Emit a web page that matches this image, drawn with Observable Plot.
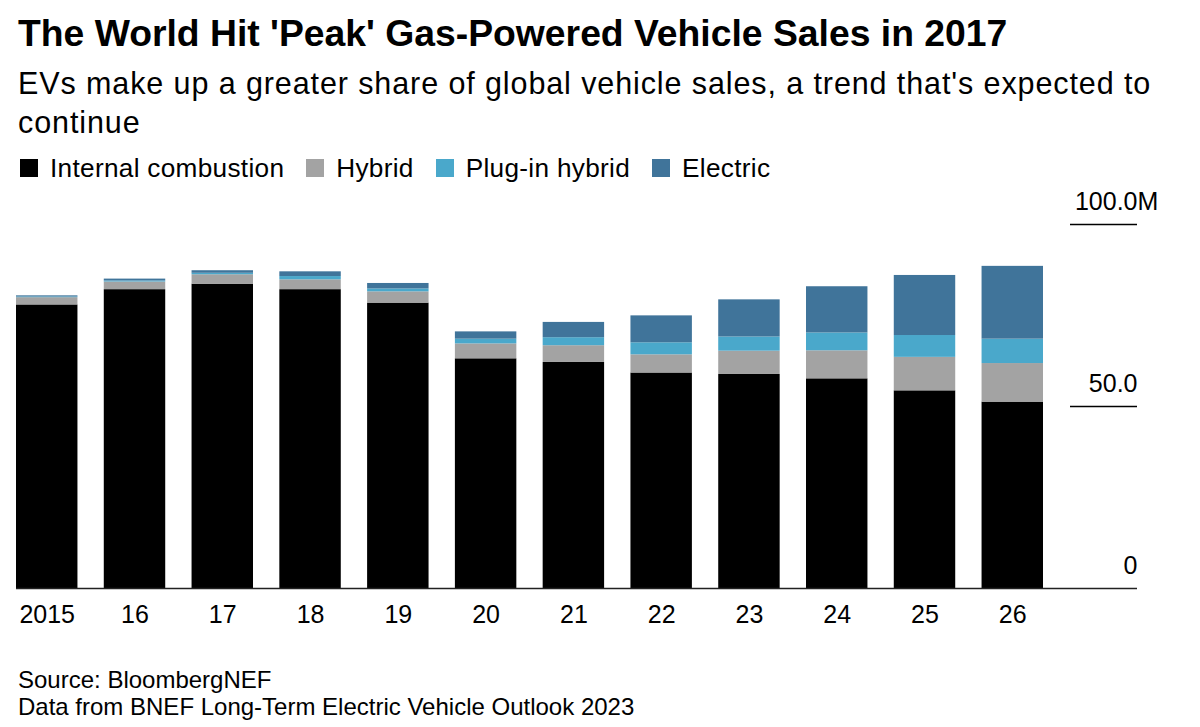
<!DOCTYPE html>
<html><head><meta charset="utf-8">
<script src="https://cdn.jsdelivr.net/npm/d3@7"></script>
<script src="https://cdn.jsdelivr.net/npm/@observablehq/plot@0.6"></script>
<style>
body{margin:0;background:#fff;font-family:"Liberation Sans",Arial,Helvetica,sans-serif;color:#000;}
#wrap{position:relative;width:1200px;height:727px;overflow:hidden;background:#fff}
.t{position:absolute;left:18px;white-space:nowrap}
#title{top:11px;font-size:37.3px;line-height:44px;font-weight:bold}
#sub{top:64px;font-size:30.5px;line-height:39px;letter-spacing:0.9px}
#legend{top:153px;left:20px;font-size:26.2px;line-height:30px;letter-spacing:0.3px;display:flex;align-items:center;z-index:2}
.item{display:flex;align-items:center;margin-right:22px}
.sw{width:18px;height:18px;margin-right:12px;display:inline-block}
#chart{position:absolute;left:0;top:180px;z-index:1}
#src{top:666px;font-size:24px;line-height:27px}
</style></head><body>
<div id="wrap">
<div class="t" id="title">The World Hit 'Peak' Gas-Powered Vehicle Sales in 2017</div>
<div class="t" id="sub">EVs make up a greater share of global vehicle sales, a trend that's expected to<br>continue</div>
<div class="t" id="legend"></div>
<div id="chart"></div>
<div class="t" id="src">Source: BloombergNEF<br>Data from BNEF Long-Term Electric Vehicle Outlook 2023</div>
</div>
<script>
const years = ["2015","2016","2017","2018","2019","2020","2021","2022","2023","2024","2025","2026"];
const tickLabels = ["2015","16","17","18","19","20","21","22","23","24","25","26"];
const series = ["Internal combustion","Hybrid","Plug-in hybrid","Electric"];
const colors = ["#000000","#a3a3a3","#4aa8cb","#40749a"];
const internalCombustion = [77.9, 82.1, 83.6, 82.1, 78.4, 63.1, 62.1, 59.2, 58.8, 57.6, 54.3, 51.2];
const hybrid = [2.0, 2.1, 2.6, 2.7, 3.1, 4.1, 4.6, 5.0, 6.4, 7.7, 9.2, 10.6];
const pluginHybrid = [0.2, 0.3, 0.4, 0.9, 0.8, 1.3, 2.2, 3.3, 3.9, 4.9, 6.0, 6.7];
const electric = [0.3, 0.5, 0.7, 1.3, 1.5, 2.0, 4.2, 7.4, 10.2, 12.7, 16.5, 20.0];
const yTicks = [0, 50, 100];
const yTickLabels = ["0", "50.0", "100.0"];
const yUnit = "M";

const valuesBySeries = [internalCombustion, hybrid, pluginHybrid, electric];
const rows = [];
years.forEach((y, i) => {
  series.forEach((s, j) => rows.push({year: y, series: s, value: valuesBySeries[j][i]}));
});

// legend
const legend = document.getElementById("legend");
series.forEach((s, j) => {
  const it = document.createElement("span");
  it.className = "item";
  const sw = document.createElement("span");
  sw.className = "sw";
  sw.style.background = colors[j];
  it.appendChild(sw);
  it.appendChild(document.createTextNode(s));
  legend.appendChild(it);
});

const chart = Plot.plot({
  width: 1200,
  height: 460,
  marginTop: 44,
  marginBottom: 52,
  marginLeft: 16,
  marginRight: 63,
  style: {fontFamily: '"Liberation Sans", Arial, sans-serif', fontSize: "25px", color: "#000", background: "transparent", overflow: "visible"},
  x: {domain: years, range: [16, 1043], paddingInner: 0.3, paddingOuter: 0, align: 0, round: false, label: null},
  y: {domain: [0, 100], axis: null},
  color: {domain: series, range: colors},
  marks: [
    Plot.barY(rows, {x: "year", y: "value", fill: "series", order: null}),
    Plot.ruleY([0], {stroke: "#222", strokeWidth: 1.6}),
    Plot.ruleY([50, 100], {stroke: "#000", strokeWidth: 1.6, insetLeft: 1054}),
    Plot.text(yTicks, {y: d => d, text: (d, i) => yTickLabels[i], frameAnchor: "right", textAnchor: "end", lineAnchor: "bottom", dy: -15, fontSize: 25, fill: "#000"}),
    Plot.text([yTicks[2]], {y: d => d, text: () => yUnit, frameAnchor: "right", textAnchor: "start", lineAnchor: "bottom", dy: -15, fontSize: 25, fill: "#000"}),
    Plot.axisX({tickSize: 0, tickPadding: 17, fontSize: 25, tickFormat: d => tickLabels[years.indexOf(d)], label: null})
  ]
});
document.getElementById("chart").appendChild(chart);
</script>
</body></html>
